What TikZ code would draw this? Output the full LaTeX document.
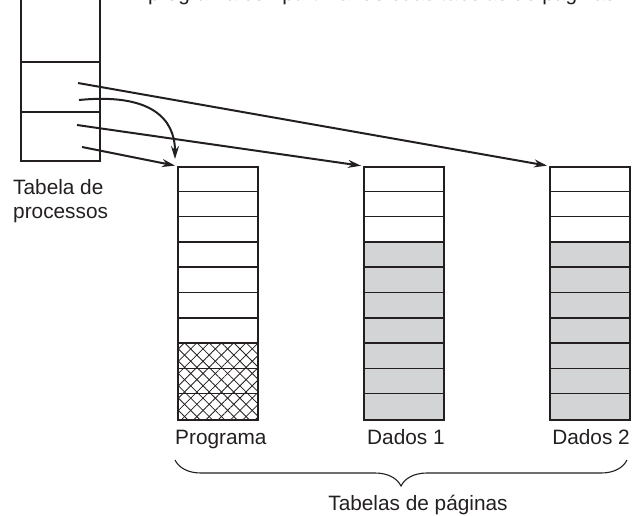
\documentclass[tikz,border=0pt]{standalone}
\usepackage{fontspec}
\setmainfont{Liberation Sans}
\usetikzlibrary{arrows.meta, positioning, patterns.meta, decorations.pathreplacing, backgrounds, calc}
\definecolor{inkgray}{HTML}{231F20}
\definecolor{cellgray}{HTML}{D3D4D6}

\begin{document}
\begin{tikzpicture}[
    x=1pt, y=-1pt,
    every node/.style={font=\fontsize{20.8}{24}\selectfont, text=inkgray, inner sep=0pt},
    ptable/.style={rectangle, draw=inkgray, line width=1.5pt, minimum width=80pt,
                  minimum height=253pt, anchor=north west},
    cell/.style={draw=inkgray, line width=1.5pt},
    hatch/.style={pattern={Lines[angle=#1, distance=8.7pt, line width=0.8pt]}, pattern color=inkgray},
    ptr/.style={-{Stealth[length=13pt, width=8pt]}, line width=2pt, draw=inkgray, shorten >=2pt},
    lbl/.style={anchor=base west}
]
\path[use as bounding box] (0,0) rectangle (634,515);
\clip (0,0) rectangle (634,515);

% Line cut at the top
\node[lbl] (caption) at (148,0.8) {programa compartilhando suas tabelas de páginas};

% Process table
\draw[cell] (21,-10) -- (21,161) -- (100,161) -- (100,-10);
\draw[cell] (21,62) -- (100,62);
\draw[cell] (21,112) -- (100,112);
\node[align=left, anchor=base west] (proctab) at (13,218) {Tabela de\\processos};

\coordinate (ptr-d2) at (78,83);
\coordinate (ptr-share) at (79,100);
\coordinate (ptr-d1) at (77,125);
\coordinate (ptr-prog) at (82,147);

% Page tables
\node[ptable] (prog) at (177,166) {};
\node[ptable] (dados1) at (363,166) {};
\node[ptable] (dados2) at (549,166) {};

\begin{scope}[on background layer]
  \fill[cellgray] ($(dados1.north west)+(0,75.9)$) rectangle (dados1.south east);
  \fill[cellgray] ($(dados2.north west)+(0,75.9)$) rectangle (dados2.south east);
  \fill[hatch=45] ($(prog.north west)+(0,177.1)$) rectangle (prog.south east);
  \fill[hatch=-45] ($(prog.north west)+(0,177.1)$) rectangle (prog.south east);
\end{scope}

\foreach \t in {prog, dados1, dados2}
  \foreach \i in {1,...,9}
    \draw[cell] ($(\t.north west)+(0,\i*25.3)$) -- ++(80,0);

\node[lbl] (lbl-prog) at (175,444) {Programa};
\node[lbl] (lbl-d1) at (367,444) {Dados 1};
\node[anchor=base east] (lbl-d2) at (630,444) {Dados 2};

% Pointers
\draw[ptr] (ptr-d2) -- (dados2.north west);
\draw[ptr] (ptr-d1) -- (dados1.north west);
\draw[ptr] (ptr-prog) -- (prog.north west);
\draw[ptr, shorten >=0pt] (ptr-share) .. controls (150,93) and (175,118) .. ($(prog.north west)+(-2,-7)$);

% Brace
\draw[line width=1.1pt, draw=inkgray, decorate, decoration={brace, mirror, amplitude=26pt}]
  (175,460) -- (627,460);
\node[anchor=base] (tabpag) at (418,510) {Tabelas de páginas};

\end{tikzpicture}
\end{document}
